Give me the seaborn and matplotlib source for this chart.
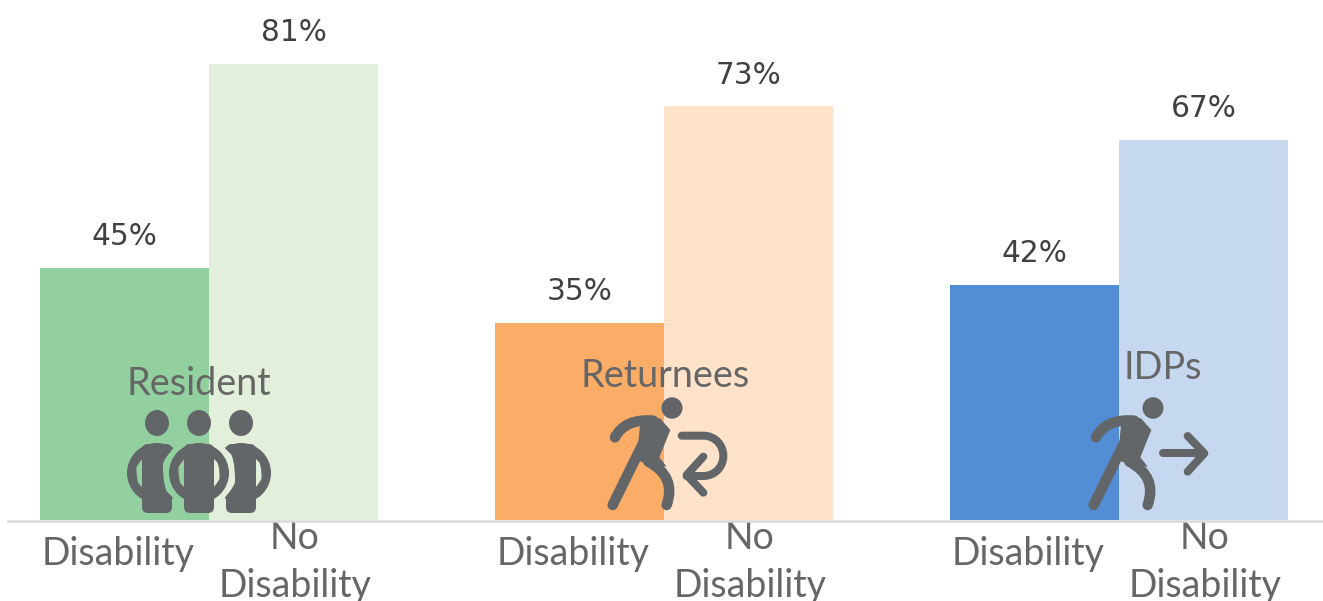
import numpy as np
import pandas as pd
import matplotlib
matplotlib.use("Agg")
import matplotlib.pyplot as plt
import seaborn as sns
from matplotlib.patches import Ellipse, FancyBboxPatch, PathPatch, Polygon
from matplotlib.path import Path
from matplotlib.transforms import Affine2D

groups = ["Resident", "Returnees", "IDPs"]
status = ["Disability", "No Disability"]
disability_values = [44.8, 35, 41.8]
no_disability_values = [81, 73.5, 67.5]
disability_labels = ["45%", "35%", "42%"]
no_disability_labels = ["81%", "73%", "67%"]
tick_text = ["Disability", "No\nDisability"]
disability_colors = ["#92D0A0", "#FBAD68", "#538DD5"]
no_disability_colors = ["#E2EFDA", "#FEE3CA", "#C6D8F0"]

GREY = "#636668"
W, H = 1323, 601
sns.set_theme(style="white")

df = pd.DataFrame({
    "group": groups * 2,
    "status": [status[0]] * 3 + [status[1]] * 3,
    "value": disability_values + no_disability_values,
})

fig = plt.figure(figsize=(W / 100, H / 100), dpi=100)
ax = fig.add_axes([0, 0, 1, 1])
ax.patch.set_alpha(0)
sns.barplot(data=df, x="group", y="value", hue="status", order=groups, hue_order=status,
            width=338 / 455, gap=0, dodge=True, saturation=1, legend=False, ax=ax)

PITCH, X0, Y0, SCALE = 455.0, 209.0, 520.0, 5.63
ax.set_xlim(-X0 / PITCH, (W - X0) / PITCH)
ax.set_ylim(-(H - Y0) / SCALE, Y0 / SCALE)

for cont, cols in zip(ax.containers, [disability_colors, no_disability_colors]):
    for bar, c in zip(cont, cols):
        bar.set_facecolor(c)
        bar.set_edgecolor("none")
        bar.set_linewidth(0)

for cont, labs in zip(ax.containers, [disability_labels, no_disability_labels]):
    ax.bar_label(cont, labels=labs, padding=12,
                 fontsize=21.3, color="#404040", family="DejaVu Sans")

# category axis
sns.despine(ax=ax, left=True, top=True, right=True)
ax.spines["bottom"].set_position(("data", -0.18))
ax.spines["bottom"].set_color("#D9D9D9")
ax.spines["bottom"].set_linewidth(1.8)
ax.spines["bottom"].set_bounds((8 - X0) / PITCH, (W - X0) / PITCH)
ax.set_ylabel("")
ax.set_xlabel("")
ax.set_yticks([])
positions, labels = [], []
for i in range(len(groups)):
    positions += [i - 0.2, i + 0.189]
    labels += tick_text
ax.set_xticks(positions)
ax.set_xticklabels(labels, fontsize=27, color="#666666", family="Lato", linespacing=1.42)
ax.tick_params(axis="x", length=0, bottom=False)
for i, tick in enumerate(ax.xaxis.get_major_ticks()):
    tick.set_pad(-0.7 if i % 2 else 11)

# group captions inside the plot
for i, (g, dx, y) in enumerate(zip(groups, [-10, 1, 44], [384, 376, 368])):
    ax.text(i + dx / PITCH, (Y0 - y) / SCALE, g, ha="center", va="center",
            fontsize=27.2, color="#666666", family="Lato")

# icons, drawn in pixel space
px = Affine2D().scale(1, -1).translate(0, H)


def add(p):
    p.set_transform(px)
    p.set_clip_on(False)
    ax.add_artist(p)
    return p


def reverse(path):
    return Path(path.vertices[::-1], path.codes)


def stroke(verts, codes=None, lw=10):
    return add(PathPatch(Path(verts, codes), fill=False, edgecolor=GREY, lw=lw * 0.72,
                         capstyle="round", joinstyle="round"))


def person(cx, hole=None):
    add(Ellipse((cx, 423), 24, 26, color=GREY, lw=0))
    ring = Path.make_compound_path(Path.circle((cx, 473), 30),
                                   reverse(Path.circle((cx, 473), 20.5)))
    body = [add(PathPatch(ring, facecolor=GREY, edgecolor="none", lw=0)),
            add(FancyBboxPatch((cx - 12, 447), 24, 63, boxstyle="round,pad=3,rounding_size=6",
                               facecolor=GREY, edgecolor="none", lw=0))]
    if hole is not None:
        for a in body:
            a.set_clip_path(hole, px)
            a.set_clip_on(True)


rect = Path([(0, 0), (W, 0), (W, H), (0, H), (0, 0)],
            [Path.MOVETO, Path.LINETO, Path.LINETO, Path.LINETO, Path.CLOSEPOLY])
clip = Path.make_compound_path(rect, reverse(Path.circle((199, 473), 36)))
person(157, clip)
person(241, clip)
person(199)


def runner(dx):
    z = lambda x, y: (570 + x / 3 + dx, 350 + y / 3)
    add(Ellipse(z(306, 174), 21, 21.5, color=GREY, lw=0))
    add(Polygon([z(*p) for p in [(210, 225), (225, 197), (270, 205), (301, 240), (268, 322),
                                 (290, 350), (240, 345), (200, 330)]],
                closed=True, facecolor=GREY, edgecolor="none", lw=0))
    C3 = Path.CURVE3
    stroke([z(135, 262), z(165, 205), z(250, 212)], [Path.MOVETO, C3, C3], lw=10.5)
    stroke([z(228, 262), z(128, 465)], lw=10.5)
    stroke([z(235, 335), z(320, 380), z(290, 465)], [Path.MOVETO, C3, C3], lw=10.5)


runner(0)
runner(481)


def zr(x, y):
    return (570 + x / 3, 350 + y / 3)


C4, LT = Path.CURVE4, Path.LINETO
stroke([zr(335, 257), zr(400, 257),
        zr(435, 257), zr(460, 285), zr(460, 318),
        zr(460, 350), zr(435, 378), zr(400, 378),
        zr(350, 378)],
       [Path.MOVETO, LT, C4, C4, C4, C4, C4, C4, LT], lw=8)
stroke([zr(400, 320), zr(350, 375), zr(400, 428)], lw=8)


def zi(x, y):
    return (1060 + x / 3, 340 + y / 3)


stroke([zi(308, 340), zi(430, 340)], lw=8)
stroke([zi(383, 288), zi(433, 340), zi(383, 395)], lw=8)

fig.savefig("out.png", dpi=100)
